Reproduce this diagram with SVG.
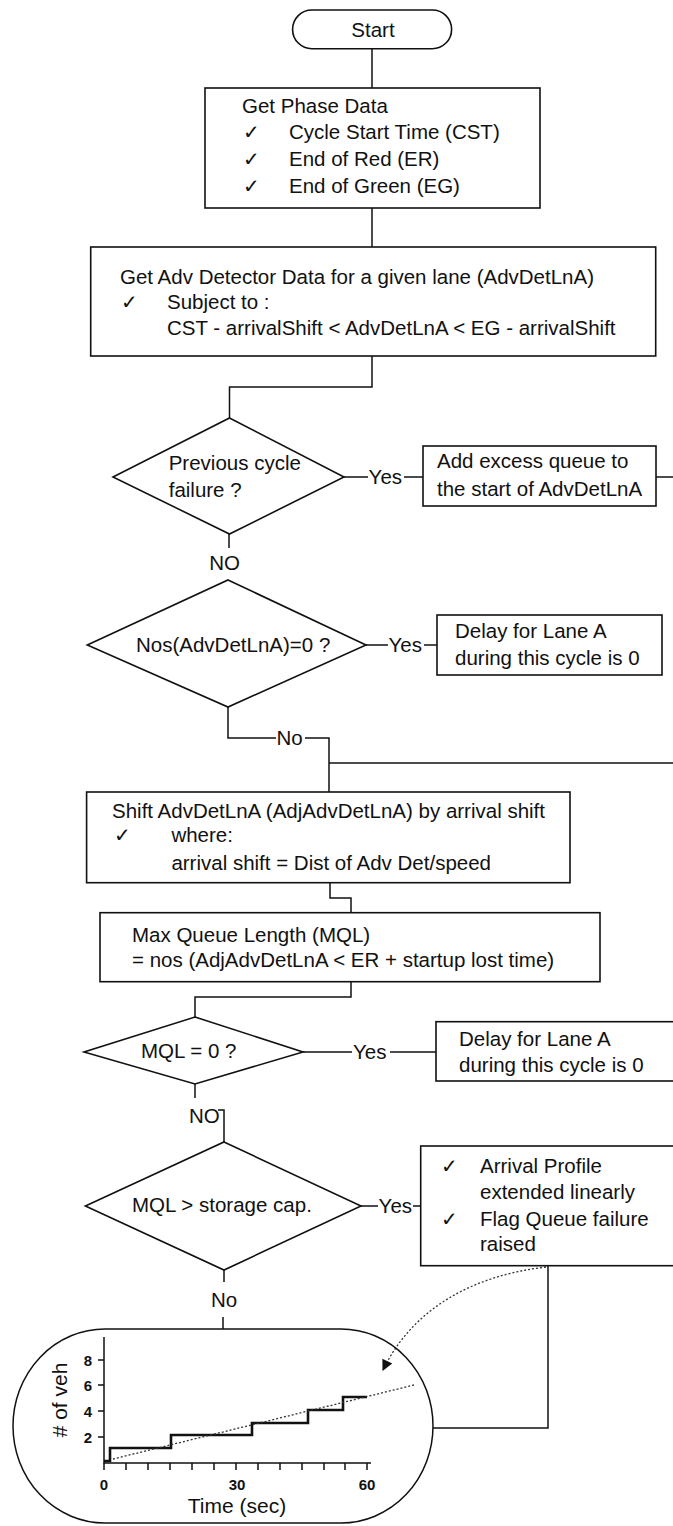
<svg xmlns="http://www.w3.org/2000/svg" width="673" height="1526" viewBox="0 0 673 1526">
<defs>
<style>
.t{font-family:"Liberation Sans",Arial,sans-serif;font-size:20.5px;fill:#111}
.ck{font-family:"DejaVu Sans",sans-serif;font-size:20px;fill:#111}
.box{fill:#fff;stroke:#111;stroke-width:1.6}
.ln{fill:none;stroke:#111;stroke-width:1.5}
.dot{fill:none;stroke:#333;stroke-width:1.3;stroke-dasharray:2 2}
.lbl{font-family:"Liberation Sans",Arial,sans-serif;font-size:15px;font-weight:bold;fill:#111}
.ax{font-family:"Liberation Sans",Arial,sans-serif;font-size:21px;fill:#111}
</style>
<marker id="ah" viewBox="0 0 10 10" refX="9" refY="5" markerWidth="13" markerHeight="11" orient="auto" markerUnits="userSpaceOnUse">
<path d="M0,0 L10,5 L0,10 z" fill="#111"/>
</marker>
</defs>
<rect width="673" height="1526" fill="#fff"/>

<g id="connectors">
<path class="ln" d="M372 48.7 V88"/>
<path class="ln" d="M372 208 V247"/>
<path class="ln" d="M372 356 V387 H229.5 V418"/>
<path class="ln" d="M344 477 H368"/>
<path class="ln" d="M404 477 H423"/>
<path class="ln" d="M656 477 H673"/>
<path class="ln" d="M229 534 V548"/>
<path class="ln" d="M366 645 H388"/>
<path class="ln" d="M424 645 H437"/>
<path class="ln" d="M228 707 V738 H276"/>
<path class="ln" d="M305 738 H329 V792"/>
<path class="ln" d="M329 763 H673"/>
<path class="ln" d="M330 883 V898 H351 V913"/>
<path class="ln" d="M351 982 V997 H195 V1017"/>
<path class="ln" d="M303 1052 H352"/>
<path class="ln" d="M390 1052 H436"/>
<path class="ln" d="M195 1084 V1098"/>
<path class="ln" d="M218 1110 H224 V1142"/>
<path class="ln" d="M361 1206 H378"/>
<path class="ln" d="M413 1206 H421"/>
<path class="ln" d="M224 1270 V1282"/>
<path class="ln" d="M223 1317 V1329"/>
<path class="ln" d="M548 1266 V1428 H433"/>
<path class="dot" d="M546 1267 C 470 1276, 412 1310, 383 1370" marker-end="url(#ah)"/>
<text class="t" x="368.6" y="484">Yes</text>
<text class="t" x="224.6" y="570" text-anchor="middle">NO</text>
<text class="t" x="388.5" y="652">Yes</text>
<text class="t" x="276.5" y="745">No</text>
<text class="t" x="353" y="1059">Yes</text>
<text class="t" x="189" y="1123">NO</text>
<text class="t" x="378.6" y="1213">Yes</text>
<text class="t" x="224" y="1307" text-anchor="middle">No</text>
</g>

<g id="start">
<rect class="box" x="292.6" y="10" width="159" height="38.7" rx="19.3"/>
<text class="t" x="373" y="36.5" text-anchor="middle">Start</text>
</g>

<g id="phase-data">
<rect class="box" x="205" y="88" width="335" height="120"/>
<text class="t" x="242" y="113">Get Phase Data</text>
<text class="ck" x="243" y="139">✓</text>
<text class="t" x="289" y="139">Cycle Start Time (CST)</text>
<text class="ck" x="243" y="166">✓</text>
<text class="t" x="289" y="166">End of Red (ER)</text>
<text class="ck" x="243" y="193">✓</text>
<text class="t" x="289" y="193">End of Green (EG)</text>
</g>

<g id="adv-data">
<rect class="box" x="90.7" y="247" width="565" height="109"/>
<text class="t" x="120" y="284">Get Adv Detector Data for a given lane (AdvDetLnA)</text>
<text class="ck" x="121" y="309">✓</text>
<text class="t" x="167" y="309">Subject to :</text>
<text class="t" x="167" y="335">CST - arrivalShift &lt; AdvDetLnA &lt; EG - arrivalShift</text>
</g>

<g id="prev-failure">
<polygon class="box" points="229.5,418 344,477 229.5,534 113,477"/>
<text class="t" x="168.7" y="470">Previous cycle</text>
<text class="t" x="168.7" y="497">failure ?</text>
</g>

<g id="add-excess">
<rect class="box" x="423" y="446" width="233" height="60"/>
<text class="t" x="437" y="468">Add excess queue to</text>
<text class="t" x="437" y="496">the start of AdvDetLnA</text>
</g>

<g id="nos-zero">
<polygon class="box" points="228,580 366,645 228,707 87.3,645"/>
<text class="t" x="136" y="652">Nos(AdvDetLnA)=0 ?</text>
</g>

<g id="delay-1">
<rect class="box" x="437" y="615" width="225" height="60"/>
<text class="t" x="455" y="638">Delay for Lane A</text>
<text class="t" x="455" y="665">during this cycle is 0</text>
</g>

<g id="shift">
<rect class="box" x="86.6" y="792" width="483.4" height="90.7"/>
<text class="t" x="112" y="818">Shift AdvDetLnA (AdjAdvDetLnA) by arrival shift</text>
<text class="ck" x="114" y="842">✓</text>
<text class="t" x="171.4" y="842">where:</text>
<text class="t" x="171.4" y="870">arrival shift = Dist of Adv Det/speed</text>
</g>

<g id="mql">
<rect class="box" x="100" y="912.7" width="500" height="69"/>
<text class="t" x="132" y="942">Max Queue Length (MQL)</text>
<text class="t" x="132" y="967">= nos (AdjAdvDetLnA &lt; ER + startup lost time)</text>
</g>

<g id="mql-zero">
<polygon class="box" points="195,1017 303,1052 195,1084 84,1052"/>
<text class="t" x="141" y="1058">MQL = 0 ?</text>
</g>

<g id="delay-2">
<rect class="box" x="436" y="1021.7" width="245" height="59.3"/>
<text class="t" x="459" y="1046">Delay for Lane A</text>
<text class="t" x="459" y="1072">during this cycle is 0</text>
</g>

<g id="mql-storage">
<polygon class="box" points="224,1142 361,1206 224,1270 85.4,1206"/>
<text class="t" x="132" y="1212">MQL &gt; storage cap.</text>
</g>

<g id="queue-failure">
<rect class="box" x="420.7" y="1146" width="260" height="119.7"/>
<text class="ck" x="441" y="1173">✓</text>
<text class="t" x="480" y="1173">Arrival Profile</text>
<text class="t" x="480" y="1199">extended linearly</text>
<text class="ck" x="441" y="1226">✓</text>
<text class="t" x="480" y="1226">Flag Queue failure</text>
<text class="t" x="480" y="1251">raised</text>
</g>

<g id="arrival-chart">
<rect fill="none" stroke="#111" stroke-width="1.5" x="13" y="1329" width="420" height="194" rx="92" ry="97"/>
<path class="ln" d="M104 1337 V1463 H371"/>
<path class="ln" stroke-width="1.2" d="M126 1463 v7 M148 1463 v7 M170 1463 v7 M192 1463 v7 M214 1463 v7 M236 1463 v7 M258 1463 v7 M280 1463 v7 M302 1463 v7 M324 1463 v7 M345 1463 v7 M367 1463 v7 M104 1463 v7"/>
<path class="ln" stroke-width="1.2" d="M98 1360 h6 M98 1385 h6 M98 1411 h6 M98 1437 h6"/>
<text class="lbl" x="88" y="1365.5" text-anchor="middle">8</text>
<text class="lbl" x="88" y="1390.5" text-anchor="middle">6</text>
<text class="lbl" x="88" y="1416.5" text-anchor="middle">4</text>
<text class="lbl" x="88" y="1442.5" text-anchor="middle">2</text>
<text class="lbl" x="104" y="1490" text-anchor="middle">0</text>
<text class="lbl" x="237" y="1490" text-anchor="middle">30</text>
<text class="lbl" x="367" y="1490" text-anchor="middle">60</text>
<text class="ax" x="237" y="1512.5" text-anchor="middle">Time (sec)</text>
<text class="ax" transform="translate(67 1400) rotate(-90)" text-anchor="middle"># of veh</text>
<path fill="none" stroke="#111" stroke-width="2.6" d="M104 1461 H110 V1448 H171 V1435 H252 V1423 H308 V1410 H343 V1397 H367"/>
<path class="dot" d="M113 1459 L414 1385"/>
</g>
</svg>
